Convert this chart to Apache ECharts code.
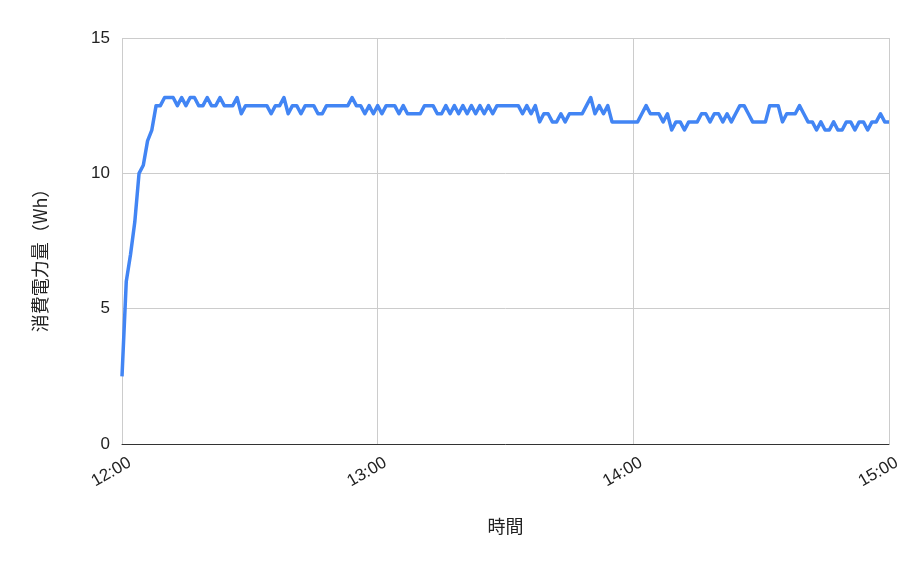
<!DOCTYPE html>
<html>
<head>
<meta charset="utf-8">
<script src="https://cdn.jsdelivr.net/npm/echarts@6/dist/echarts.min.js"></script>
<style>
html,body{margin:0;padding:0;background:#fff;}
#chart{width:918px;height:567px;}
</style>
</head>
<body>
<div id="chart"></div>
<script>
// Minutes after 12:00, one reading per minute
const startMinute = 0;
const values = [
  2.5, 6.0, 7.0, 8.2, 10.0, 10.3, 11.2, 11.6, 12.5, 12.5,
  12.8, 12.8, 12.8, 12.5, 12.8, 12.5, 12.8, 12.8, 12.5, 12.5,
  12.8, 12.5, 12.5, 12.8, 12.5, 12.5, 12.5, 12.8, 12.2, 12.5,
  12.5, 12.5, 12.5, 12.5, 12.5, 12.2, 12.5, 12.5, 12.8, 12.2,
  12.5, 12.5, 12.2, 12.5, 12.5, 12.5, 12.2, 12.2, 12.5, 12.5,
  12.5, 12.5, 12.5, 12.5, 12.8, 12.5, 12.5, 12.2, 12.5, 12.2,
  12.5, 12.2, 12.5, 12.5, 12.5, 12.2, 12.5, 12.2, 12.2, 12.2,
  12.2, 12.5, 12.5, 12.5, 12.2, 12.2, 12.5, 12.2, 12.5, 12.2,
  12.5, 12.2, 12.5, 12.2, 12.5, 12.2, 12.5, 12.2, 12.5, 12.5,
  12.5, 12.5, 12.5, 12.5, 12.2, 12.5, 12.2, 12.5, 11.9, 12.2,
  12.2, 11.9, 11.9, 12.2, 11.9, 12.2, 12.2, 12.2, 12.2, 12.5,
  12.8, 12.2, 12.5, 12.2, 12.5, 11.9, 11.9, 11.9, 11.9, 11.9,
  11.9, 11.9, 12.2, 12.5, 12.2, 12.2, 12.2, 11.9, 12.2, 11.6,
  11.9, 11.9, 11.6, 11.9, 11.9, 11.9, 12.2, 12.2, 11.9, 12.2,
  12.2, 11.9, 12.2, 11.9, 12.2, 12.5, 12.5, 12.2, 11.9, 11.9,
  11.9, 11.9, 12.5, 12.5, 12.5, 11.9, 12.2, 12.2, 12.2, 12.5,
  12.2, 11.9, 11.9, 11.6, 11.9, 11.6, 11.6, 11.9, 11.6, 11.6,
  11.9, 11.9, 11.6, 11.9, 11.9, 11.6, 11.9, 11.9, 12.2, 11.9,
  11.9
];
const xTickLabels = ['12:00', '13:00', '14:00', '15:00'];
const yTicks = [0, 5, 10, 15];
const xName = '時間';
const yName = '消費電力量（Wh）';

const seriesData = values.map((v, i) => [startMinute + i, v]);

const chart = echarts.init(document.getElementById('chart'), null, {renderer: 'canvas'});
const font = 'Liberation Sans, Arial, sans-serif';
const cjk = '"Noto Sans CJK JP", sans-serif';
chart.setOption({
  animation: false,
  backgroundColor: '#ffffff',
  grid: {left: 122, right: 29, top: 38, bottom: 123, containLabel: false},
  xAxis: {
    type: 'value',
    min: 0, max: 180, interval: 60,
    name: xName,
    nameLocation: 'middle',
    nameGap: 73,
    nameTextStyle: {fontSize: 18, color: '#222', fontFamily: cjk},
    axisLine: {show: true, lineStyle: {color: '#333', width: 1}},
    axisTick: {show: false},
    axisLabel: {
      rotate: 30,
      fontSize: 17,
      color: '#222',
      fontFamily: font,
      margin: 22,
      padding: [0, -9, 0, 0],
      formatter: (v) => xTickLabels[Math.round(v / 60)] || ''
    },
    splitLine: {show: true, lineStyle: {color: '#cccccc', width: 1}}
  },
  yAxis: {
    type: 'value',
    min: yTicks[0], max: yTicks[yTicks.length - 1], interval: 5,
    name: yName,
    nameLocation: 'middle',
    nameGap: 73,
    nameRotate: 90,
    nameTextStyle: {fontSize: 18, color: '#222', fontFamily: cjk, padding: [0, 30, 0, 0]},
    axisLine: {show: false},
    axisTick: {show: false},
    axisLabel: {fontSize: 17, color: '#222', fontFamily: font, margin: 12},
    splitLine: {show: true, lineStyle: {color: '#cccccc', width: 1}}
  },
  series: [{
    type: 'line',
    data: seriesData,
    showSymbol: false,
    symbol: 'none',
    lineStyle: {color: '#4285F4', width: 3.5, join: 'round'},
    itemStyle: {color: '#4285F4'}
  }]
});
</script>
</body>
</html>
